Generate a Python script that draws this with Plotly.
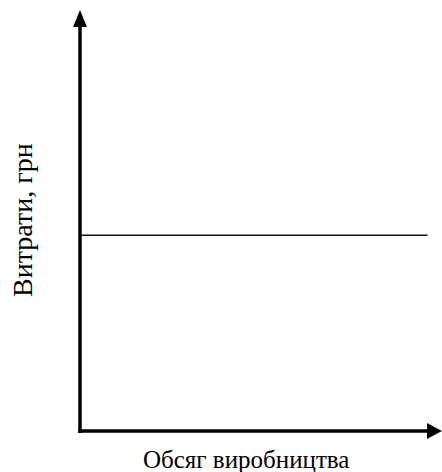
import plotly.graph_objects as go

# Data
volume = [0.5, 96]          # обсяг виробництва (умовні одиниці)
fixed_costs = [46.5, 46.5]  # постійні витрати (умовні одиниці)
x_title = "Обсяг виробництва"
y_title = "Витрати, грн"

W, H = 442, 472
L, R, T, B = 80, 0, 10, 41
pw, ph = W - L - R, H - T - B

def px_x(px):
    return (px - L) / pw

def px_y(py):
    return (H - B - py) / ph

fig = go.Figure()
fig.add_trace(go.Scatter(x=volume, y=fixed_costs, mode="lines",
                         line=dict(color="#111111", width=1.6),
                         hoverinfo="skip", showlegend=False))

shapes = [
    # y axis
    dict(type="line", xref="paper", yref="paper", x0=0, y0=px_y(433), x1=0, y1=px_y(25),
         line=dict(color="black", width=3.5)),
    dict(type="path", xref="paper", yref="paper",
         path=f"M 0 {px_y(10)} L {px_x(73)} {px_y(27)} L {px_x(87)} {px_y(27)} Z",
         fillcolor="black", line=dict(color="black", width=0)),
    # x axis
    dict(type="line", xref="paper", yref="paper", x0=px_x(78.3), y0=0, x1=px_x(430), y1=0,
         line=dict(color="black", width=3.5)),
    dict(type="path", xref="paper", yref="paper",
         path=f"M {px_x(442)} 0 L {px_x(427)} {px_y(423)} L {px_x(427)} {px_y(439)} Z",
         fillcolor="black", line=dict(color="black", width=0)),
]

annotations = [
    dict(text=x_title, xref="paper", yref="paper", x=px_x(246), y=px_y(459),
         showarrow=False, xanchor="center", yanchor="middle",
         font=dict(family="Liberation Serif", size=25, color="black")),
    dict(text=y_title, xref="paper", yref="paper", x=px_x(22), y=px_y(220),
         showarrow=False, xanchor="center", yanchor="middle", textangle=-90,
         font=dict(family="Liberation Serif", size=28, color="black")),
]

fig.update_layout(
    width=W, height=H,
    margin=dict(l=L, r=R, t=T, b=B),
    paper_bgcolor="white", plot_bgcolor="white",
    xaxis=dict(range=[0, 100], visible=False, fixedrange=True),
    yaxis=dict(range=[0, 100], visible=False, fixedrange=True),
    shapes=shapes, annotations=annotations,
)

fig.write_html("out.html", config={"displayModeBar": False, "staticPlot": True},
               post_script="document.body.style.margin='0px';document.body.style.padding='0px';")
